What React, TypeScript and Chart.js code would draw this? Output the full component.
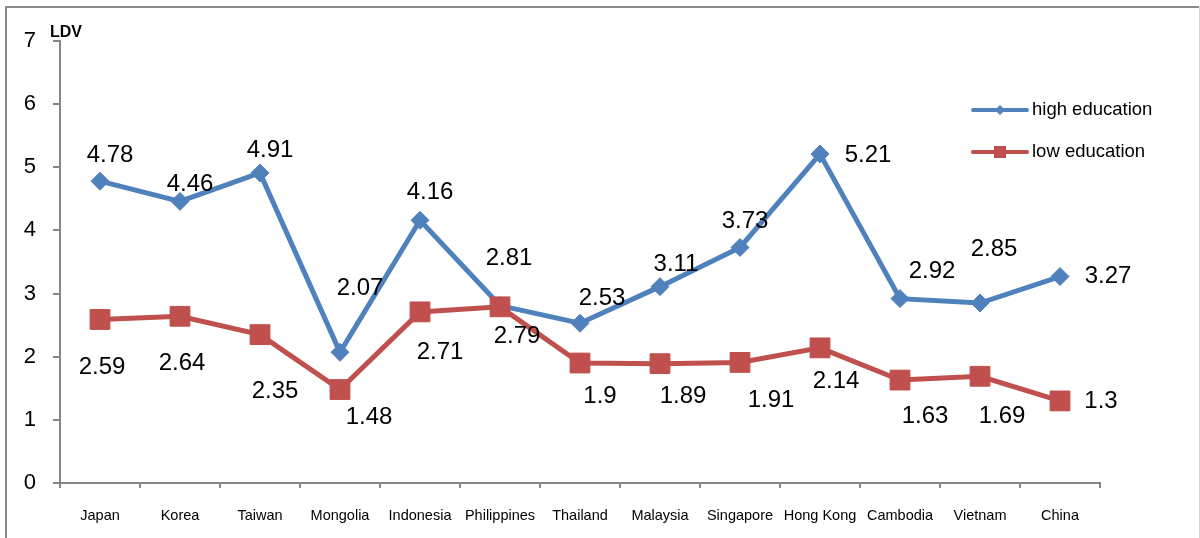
import React, { useEffect, useRef } from "react";
import { Chart, registerables } from "chart.js";

Chart.register(...registerables);

const categories = ["Japan", "Korea", "Taiwan", "Mongolia", "Indonesia", "Philippines", "Thailand", "Malaysia", "Singapore", "Hong Kong", "Cambodia", "Vietnam", "China"];
const highEducation = [4.78, 4.46, 4.91, 2.07, 4.16, 2.81, 2.53, 3.11, 3.73, 5.21, 2.92, 2.85, 3.27];
const lowEducation = [2.59, 2.64, 2.35, 1.48, 2.71, 2.79, 1.9, 1.89, 1.91, 2.14, 1.63, 1.69, 1.3];
const yTicks = [0, 1, 2, 3, 4, 5, 6, 7];
const seriesNames = ["high education", "low education"];
const axisTitle = "LDV";

// label offsets (px) relative to each point
const highLabelOffsets: [number, number][] = [
  [10, -26], [10, -17], [10, -23], [20, -64], [10, -28], [9, -47], [22, -25],
  [16, -22], [5, -26], [48, 1], [32, -27], [14, -54], [48, 0],
];
const lowLabelOffsets: [number, number][] = [
  [2, 48], [2, 47], [15, 57], [29, 28], [20, 40], [17, 30], [20, 33],
  [23, 33], [31, 38], [16, 34], [25, 36], [22, 40], [41, 0],
];

const BLUE = "#4F81BD";
const RED = "#C0504D";
const AXIS = "#868686";
const FONT = "'Liberation Sans', Arial, sans-serif";

export default function App() {
  const ref = useRef<HTMLCanvasElement | null>(null);

  useEffect(() => {
    const canvas = ref.current;
    if (!canvas) return;

    const extras = {
      id: "extras",
      afterDatasetsDraw(chart: any) {
        const ctx = chart.ctx;
        ctx.save();
        ctx.fillStyle = "#000";
        ctx.font = `24px ${FONT}`;
        ctx.textAlign = "center";
        ctx.textBaseline = "middle";
        const sets = [
          { vals: highEducation, offs: highLabelOffsets, idx: 0 },
          { vals: lowEducation, offs: lowLabelOffsets, idx: 1 },
        ];
        sets.forEach((s) => {
          const meta = chart.getDatasetMeta(s.idx);
          meta.data.forEach((pt: any, i: number) => {
            const [dx, dy] = s.offs[i];
            ctx.fillText(String(s.vals[i]), pt.x + dx, pt.y + dy);
          });
        });
        ctx.restore();
      },
      afterDraw(chart: any) {
        const ctx = chart.ctx;
        ctx.save();
        // frame
        ctx.strokeStyle = "#8a8a8a";
        ctx.lineWidth = 2;
        ctx.beginPath();
        ctx.moveTo(6, 545);
        ctx.lineTo(6, 7);
        ctx.lineTo(1199, 7);
        ctx.stroke();
        ctx.strokeStyle = "#d4d4d4";
        ctx.lineWidth = 1;
        ctx.beginPath();
        ctx.moveTo(1199.5, 7);
        ctx.lineTo(1199.5, 545);
        ctx.stroke();

        // axis title
        ctx.fillStyle = "#000";
        ctx.font = `bold 16px ${FONT}`;
        ctx.textAlign = "left";
        ctx.textBaseline = "middle";
        ctx.fillText(axisTitle, 50, 33);

        // legend
        const items = [
          { color: BLUE, style: "diamond", y: 110 },
          { color: RED, style: "square", y: 152 },
        ];
        items.forEach((it, i) => {
          ctx.strokeStyle = it.color;
          ctx.lineWidth = 4;
          ctx.lineCap = "round";
          ctx.beginPath();
          ctx.moveTo(973, it.y);
          ctx.lineTo(1027, it.y);
          ctx.stroke();
          ctx.fillStyle = it.color;
          if (it.style === "diamond") {
            ctx.beginPath();
            ctx.moveTo(1000, it.y - 5);
            ctx.lineTo(1005, it.y);
            ctx.lineTo(1000, it.y + 5);
            ctx.lineTo(995, it.y);
            ctx.closePath();
            ctx.fill();
          } else {
            ctx.fillRect(994, it.y - 6, 12, 12);
          }
          ctx.fillStyle = "#000";
          ctx.font = `18.5px ${FONT}`;
          ctx.textAlign = "left";
          ctx.textBaseline = "middle";
          ctx.fillText(seriesNames[i], 1032, it.y);
        });
        ctx.restore();
      },
    };

    const chart = new Chart(canvas, {
      type: "line",
      data: {
        labels: categories,
        datasets: [
          {
            label: seriesNames[0],
            data: highEducation,
            borderColor: BLUE,
            backgroundColor: BLUE,
            borderWidth: 5,
            pointStyle: "rectRot",
            pointRadius: 9,
            pointBorderWidth: 1,
            pointBorderColor: BLUE,
            pointBackgroundColor: BLUE,
            tension: 0,
            order: 1,
          },
          {
            label: seriesNames[1],
            data: lowEducation,
            borderColor: RED,
            backgroundColor: RED,
            borderWidth: 5,
            pointStyle: "rect",
            pointRadius: 14,
            pointBorderWidth: 1,
            pointBorderColor: RED,
            pointBackgroundColor: RED,
            tension: 0,
            order: 0,
          },
        ],
      },
      options: {
        responsive: false,
        animation: false,
        devicePixelRatio: 1,
        layout: { padding: { top: 41, right: 100, left: 0, bottom: 0 } },
        plugins: {
          legend: { display: false },
          tooltip: { enabled: false },
          title: { display: false },
        },
        scales: {
          x: {
            type: "category",
            offset: true,
            grid: {
              offset: true,
              drawOnChartArea: false,
              drawTicks: true,
              tickLength: 5,
              color: AXIS,
              lineWidth: 2,
            },
            border: { display: true, color: AXIS, width: 2 },
            ticks: {
              color: "#000",
              font: { family: FONT, size: 14.5 },
              padding: 19,
              maxRotation: 0,
              autoSkip: false,
            },
            afterFit: (s: any) => {
              s.height = 55;
            },
          },
          y: {
            min: yTicks[0],
            max: yTicks[yTicks.length - 1],
            afterBuildTicks: (s: any) => {
              s.ticks = yTicks.map((v) => ({ value: v }));
            },
            grid: {
              drawOnChartArea: false,
              drawTicks: true,
              tickLength: 7,
              color: AXIS,
              lineWidth: 2,
            },
            border: { display: true, color: AXIS, width: 2 },
            ticks: {
              color: "#000",
              font: { family: FONT, size: 22 },
              padding: 17,
            },
            afterFit: (s: any) => {
              s.width = 60;
            },
          },
        },
      },
      plugins: [extras],
    } as any);

    return () => chart.destroy();
  }, []);

  return (
    <div style={{ position: "fixed", left: 0, top: 0, width: 1200, height: 538, background: "#fff" }}>
      <canvas ref={ref} width={1200} height={538} style={{ display: "block", width: 1200, height: 538 }} />
    </div>
  );
}
